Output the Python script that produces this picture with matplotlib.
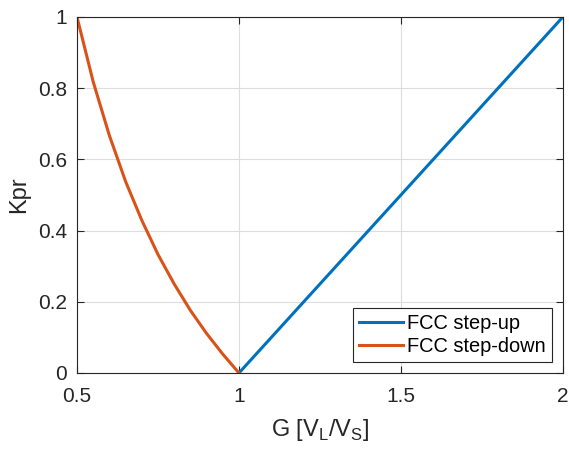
import matplotlib.pyplot as plt

plt.rcParams['font.family'] = ['Liberation Sans', 'DejaVu Sans']
plt.rcParams['mathtext.fontset'] = 'custom'
plt.rcParams['mathtext.rm'] = 'Liberation Sans'

# step-up branch
g_up = [1.0, 2.0]
kpr_up = [0.0, 1.0]

# step-down branch
g_down = [0.5, 0.55, 0.6, 0.65, 0.7, 0.75, 0.8, 0.85, 0.9, 0.95, 1.0]
kpr_down = [1.0, 0.818, 0.667, 0.538, 0.429, 0.333, 0.25, 0.176, 0.111, 0.053, 0.0]

xticks = [0.5, 1, 1.5, 2]
yticks = [0, 0.2, 0.4, 0.6, 0.8, 1]

fig = plt.figure(figsize=(5.69, 4.49), dpi=100)
ax = fig.add_axes([0.1353, 0.1693, 0.854, 0.793])

ax.plot(g_up, kpr_up, color='#0072BD', lw=2.2, label='FCC step-up')
ax.plot(g_down, kpr_down, color='#D95319', lw=2.2, label='FCC step-down')

ax.set_xlim(0.5, 2)
ax.set_ylim(0, 1)
ax.set_xticks(xticks)
ax.set_xticklabels(['0.5', '1', '1.5', '2'])
ax.set_yticks(yticks)
ax.set_yticklabels(['0', '0.2', '0.4', '0.6', '0.8', '1'])
ax.grid(True, color='#dddddd', lw=0.8)
ax.set_axisbelow(True)
ax.tick_params(direction='in', length=5, width=0.8, labelsize=15, colors='#262626',
               top=True, right=True)
ax.tick_params(axis='x', pad=10)
ax.tick_params(axis='y', pad=7)
for s in ax.spines.values():
    s.set_color('#262626')
    s.set_linewidth(0.8)

ax.set_xlabel('G [V$_\\mathrm{L}$/V$_\\mathrm{S}$]', fontsize=17, color='#262626', labelpad=8)
ax.set_ylabel('Kpr', fontsize=17, color='#262626', labelpad=6)

leg = ax.legend(loc='lower right', fontsize=14.4, fancybox=False, framealpha=1,
                edgecolor='#262626', borderaxespad=0.55, handlelength=2.2,
                handletextpad=0.2, borderpad=0.3, labelspacing=0.2)
leg.get_frame().set_linewidth(0.8)

fig.savefig('out.png', dpi=100)
